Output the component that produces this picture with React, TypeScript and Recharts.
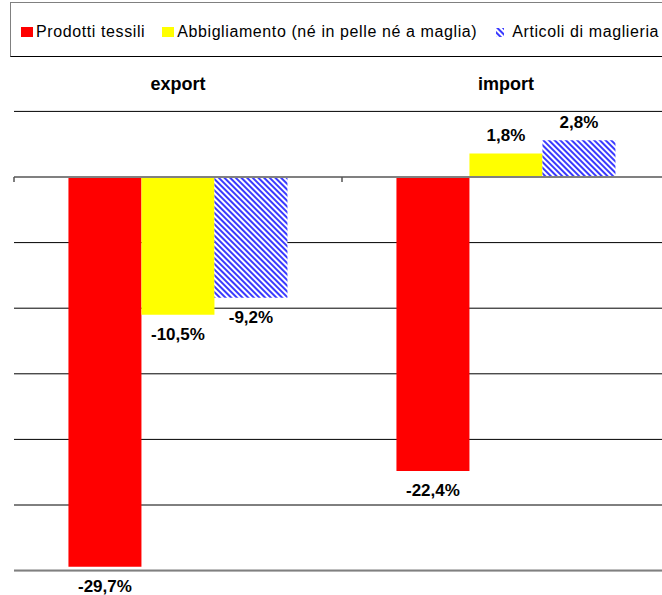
import React from 'react';
import { BarChart, Bar, XAxis, YAxis, CartesianGrid, ReferenceLine, LabelList } from 'recharts';

const categories = ['export', 'import'];
const seriesNames = ['Prodotti tessili', 'Abbigliamento (né in pelle né a maglia)', 'Articoli di maglieria'];
const tessili = [-29.7, -22.4];
const abbigliamento = [-10.5, 1.8];
const maglieria = [-9.2, 2.8];
const yTicks = [5, 0, -5, -10, -15, -20, -25, -30];

const FONT = '"Liberation Sans", Arial, sans-serif';

const data = categories.map((c, i) => ({
  name: c,
  tessili: tessili[i],
  abbigliamento: abbigliamento[i],
  maglieria: maglieria[i],
}));

const fmt = (v: number) => `${v.toFixed(1).replace('.', ',')}%`;

const ValueLabel = (props: any) => {
  const vb = props.viewBox ?? props;
  const { x, y, width, height } = vb;
  const value = Number(props.value);
  const top = Math.min(y, y + height);
  const bottom = Math.max(y, y + height);
  const ty = value < 0 ? bottom + 25 : top - 12;
  return (
    <text x={x + width / 2} y={ty} textAnchor="middle" fontFamily={FONT} fontSize={17} fontWeight="bold" fill="#000">
      {fmt(value)}
    </text>
  );
};

const CategoryTick = (props: any) => {
  const { x, y, payload } = props;
  return (
    <text x={x} y={y} textAnchor="middle" fontFamily={FONT} fontSize={18} fontWeight="bold" fill="#000">
      {payload.value}
    </text>
  );
};

// zero line with small tick marks at category boundaries
const ZeroLine = (props: any) => {
  const { x1, y1, x2, y2 } = props;
  const step = (x2 - x1) / categories.length;
  return (
    <g>
      <line x1={x1} y1={y1} x2={x2} y2={y2} stroke="#808080" strokeWidth={2} />
      {categories.map((_, i) => (
        <line key={i} x1={x1 + step * i} x2={x1 + step * i} y1={y1} y2={y1 + 5} stroke="#555" strokeWidth={1.5} />
      ))}
    </g>
  );
};

const swatch = (fill: string) => ({
  display: 'inline-block',
  width: 12,
  height: 10,
  background: fill,
  marginRight: 3,
});

export default function App() {
  return (
    <div style={{ position: 'relative', width: 662, height: 595, overflow: 'hidden', background: '#fff' }}>
      <style>{'body{margin:0}'}</style>
      <svg width={0} height={0} style={{ position: 'absolute' }}>
        <defs>
          <pattern id="stripes" width={4} height={4} patternUnits="userSpaceOnUse" patternTransform="rotate(-45)">
            <rect width={4} height={4} fill="#fff" />
            <line x1={1} y1={0} x2={1} y2={4} stroke="#3a3aff" strokeWidth={2} />
          </pattern>
        </defs>
      </svg>

      <div
        style={{
          position: 'absolute',
          left: 10,
          top: 2,
          width: 700,
          height: 55,
          border: '1px solid #808080',
          borderBottom: '1.5px solid #000',
          boxSizing: 'border-box',
          fontFamily: FONT,
          fontSize: 16,
          letterSpacing: 0.6,
          color: '#000',
        }}
      >
        <div style={{ position: 'absolute', left: 10, top: 20, display: 'flex', alignItems: 'center', whiteSpace: 'nowrap' }}>
          <span style={swatch('#ff0000')} />
          <span style={{ marginRight: 17 }}>{seriesNames[0]}</span>
          <span style={swatch('#ffff00')} />
          <span style={{ marginRight: 19 }}>{seriesNames[1]}</span>
          <svg width={8} height={9} style={{ marginRight: 8 }}>
            <rect width={8} height={9} fill="url(#stripes)" />
          </svg>
          <span>{seriesNames[2]}</span>
        </div>
      </div>

      <BarChart
        width={662}
        height={595}
        data={data}
        margin={{ top: 81.4, right: -8, left: 14, bottom: 24.4 }}
        barCategoryGap="16.6%"
        barGap={0}
        style={{ position: 'absolute', left: 0, top: 0 }}
      >
        <CartesianGrid vertical={false} stroke="#000" strokeWidth={1} />
        <XAxis
          dataKey="name"
          orientation="top"
          height={30}
          axisLine={false}
          tickLine={false}
          tickSize={0}
          tickMargin={21}
          tick={<CategoryTick />}
        />
        <YAxis hide domain={[-30, 5]} ticks={yTicks} type="number" allowDataOverflow />
        <ReferenceLine y={-30} stroke="#808080" strokeWidth={2} />
        <Bar dataKey="tessili" fill="#ff0000" isAnimationActive={false}>
          <LabelList dataKey="tessili" content={<ValueLabel />} />
        </Bar>
        <Bar dataKey="abbigliamento" fill="#ffff00" isAnimationActive={false}>
          <LabelList dataKey="abbigliamento" content={<ValueLabel />} />
        </Bar>
        <Bar dataKey="maglieria" fill="url(#stripes)" isAnimationActive={false}>
          <LabelList dataKey="maglieria" content={<ValueLabel />} />
        </Bar>
        <ReferenceLine y={0} shape={<ZeroLine />} />
      </BarChart>
    </div>
  );
}
